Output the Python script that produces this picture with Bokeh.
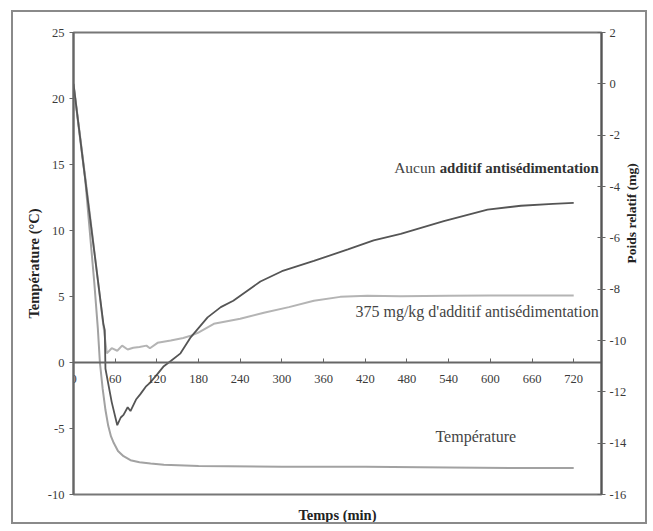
import math
from bokeh.plotting import figure
from bokeh.models import Range1d, LinearAxis, FixedTicker, Label
from bokeh.embed import file_html
from bokeh.resources import INLINE

# ---- data ----
x_ticks = [0, 60, 120, 180, 240, 300, 360, 420, 480, 540, 600, 660, 720]
left_ticks = [-10, -5, 0, 5, 10, 15, 20, 25]
right_ticks = [-16, -14, -12, -10, -8, -6, -4, -2, 0, 2]

time_aucun = [0, 20, 43, 45, 46, 55, 63, 68, 72, 78, 82, 90, 96, 104, 110, 121, 130, 140,
              154, 168, 193, 212, 230, 269, 300, 346, 395, 432, 471, 533, 596, 644, 690, 720]
poids_aucun = [0, -4.4, -9.35, -9.6, -11.1, -12.4, -13.3, -13.0, -12.9, -12.6, -12.75, -12.3,
               -12.1, -11.8, -11.65, -11.3, -11.0, -10.8, -10.5, -9.9, -9.1, -8.7, -8.45,
               -7.7, -7.3, -6.9, -6.45, -6.1, -5.85, -5.35, -4.9, -4.75, -4.68, -4.64]

time_375 = [0, 20, 42, 48, 55, 63, 70, 78, 86, 95, 105, 110, 121, 140, 158, 170, 179, 202,
            240, 274, 310, 346, 384, 423, 471, 540, 600, 660, 720]
poids_375 = [0, -4.3, -9.2, -10.5, -10.3, -10.4, -10.2, -10.35, -10.28, -10.25, -10.2, -10.3,
             -10.09, -10.0, -9.9, -9.8, -9.7, -9.35, -9.15, -8.92, -8.7, -8.45, -8.3, -8.26,
             -8.28, -8.26, -8.25, -8.25, -8.25]

time_temp = [0, 17, 30, 35, 38, 42, 46, 50, 54, 58, 64, 72, 82, 95, 111, 130, 180, 300,
             420, 540, 660, 720]
temperature = [21, 13.8, 6.0, 2.6, 0, -2.0, -3.6, -4.8, -5.6, -6.1, -6.7, -7.1, -7.4, -7.55,
               -7.65, -7.75, -7.85, -7.9, -7.9, -7.95, -8.0, -8.0]

FONT = "Liberation Serif"
TXT = "#3a3a3a"
AX = "#666666"

p = figure(width=636, height=514, x_range=Range1d(0, 760), y_range=Range1d(-10, 25),
           output_backend="svg", toolbar_location=None,
           min_border_left=60, min_border_right=48, min_border_top=20, min_border_bottom=32)
p.margin = (10, 0, 0, 11)
p.styles = {"border": "2px solid #8a8a8a"}
p.extra_y_ranges = {"right": Range1d(-16, 2)}
p.grid.visible = False
p.outline_line_color = "#777777"
p.outline_line_width = 2
p.background_fill_color = "white"
p.border_fill_color = "white"

# x axis drawn at y = 0
xa = p.xaxis[0]
xa.fixed_location = 0
xa.ticker = FixedTicker(ticks=x_ticks)
xa.major_tick_in = 4
xa.major_tick_out = 0
xa.minor_tick_line_color = None
xa.axis_line_color = AX
xa.axis_line_width = 2
xa.major_tick_line_color = AX
xa.major_label_text_font = FONT
xa.major_label_text_font_size = "12.5px"
xa.major_label_text_color = TXT
xa.major_label_standoff = 12

# axis title below
xt = LinearAxis(ticker=FixedTicker(ticks=[]), axis_label="Temps (min)")
xt.axis_line_color = None
xt.major_tick_line_color = None
xt.minor_tick_line_color = None
xt.axis_label_text_font = FONT
xt.axis_label_text_font_style = "bold"
xt.axis_label_text_font_size = "14.5px"
xt.axis_label_text_color = "#222222"
xt.axis_label_standoff = 12
p.add_layout(xt, "below")

ya = p.yaxis[0]
ya.ticker = FixedTicker(ticks=left_ticks)
ya.major_label_overrides = {t: str(t) for t in left_ticks}
ya.major_tick_in = 0
ya.major_tick_out = 4
ya.minor_tick_line_color = None
ya.axis_line_color = AX
ya.axis_line_width = 2
ya.major_tick_line_color = AX
ya.major_label_text_font = FONT
ya.major_label_text_font_size = "12.5px"
ya.major_label_text_color = TXT
ya.major_label_standoff = 5
ya.axis_label = "Température (°C)"
ya.axis_label_text_font = FONT
ya.axis_label_text_font_style = "bold"
ya.axis_label_text_font_size = "14.5px"
ya.axis_label_text_color = "#222222"
ya.axis_label_standoff = 3

ra = LinearAxis(y_range_name="right", ticker=FixedTicker(ticks=right_ticks))
ra.major_label_overrides = {t: str(t) for t in right_ticks}
ra.major_tick_in = 4
ra.major_tick_out = 4
ra.minor_tick_line_color = None
ra.axis_line_color = "#555555"
ra.axis_line_width = 2
ra.major_tick_line_color = AX
ra.major_label_text_font = FONT
ra.major_label_text_font_size = "12.5px"
ra.major_label_text_color = TXT
ra.major_label_standoff = 4
ra.axis_label = "Poids relatif (mg)"
ra.axis_label_orientation = math.pi / 2
ra.axis_label_text_font = FONT
ra.axis_label_text_font_style = "bold"
ra.axis_label_text_font_size = "13.5px"
ra.axis_label_text_color = "#222222"
ra.axis_label_standoff = 2
p.add_layout(ra, "right")

# series
p.line(time_temp, temperature, line_color="#a2a2a2", line_width=2)
p.line(time_375, poids_375, y_range_name="right", line_color="#b4b4b4", line_width=2)
p.line(time_aucun, poids_aucun, y_range_name="right", line_color="#555555", line_width=1.8)

# in-plot labels
p.add_layout(Label(x=521, y=-3.27, y_range_name="right", text="Aucun", text_align="right",
                   text_baseline="middle", text_font=FONT, text_font_size="15.5px",
                   text_color="#444444"))
p.add_layout(Label(x=756, y=-3.27, y_range_name="right", text="additif antisédimentation",
                   text_align="right", text_baseline="middle", text_font=FONT,
                   text_font_size="14.8px", text_font_style="bold", text_color="#333333"))
p.add_layout(Label(x=756, y=-8.88, y_range_name="right",
                   text="375 mg/kg d'additif antisédimentation", text_align="right",
                   text_baseline="middle", text_font=FONT, text_font_size="16px",
                   text_color="#444444", background_fill_color="white"))
p.add_layout(Label(x=521, y=-5.6, text="Température", text_align="left",
                   text_baseline="middle", text_font=FONT, text_font_size="16px",
                   text_color="#444444"))

open("out.html", "w").write(file_html(p, INLINE))
